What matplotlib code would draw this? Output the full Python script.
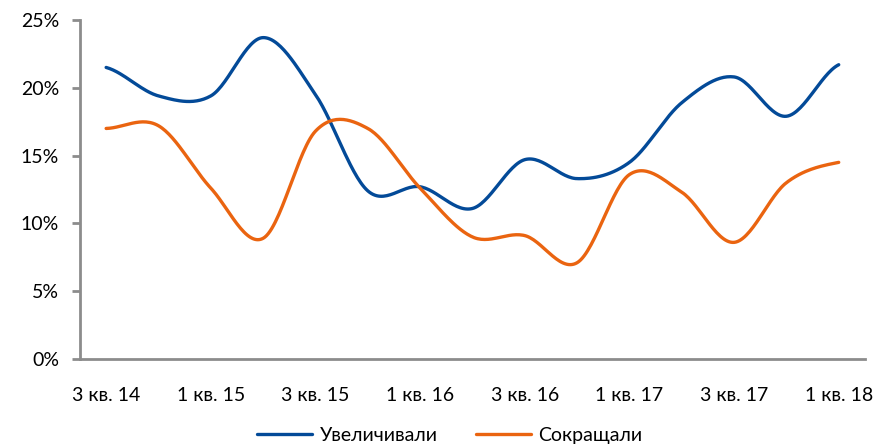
import numpy as np
import matplotlib.pyplot as plt
from matplotlib.ticker import FuncFormatter

quarters = ['3 кв. 14', '4 кв. 14', '1 кв. 15', '2 кв. 15', '3 кв. 15', '4 кв. 15',
            '1 кв. 16', '2 кв. 16', '3 кв. 16', '4 кв. 16', '1 кв. 17', '2 кв. 17',
            '3 кв. 17', '4 кв. 17', '1 кв. 18']
increased = [21.5, 19.4, 19.4, 23.7, 19.5, 12.4, 12.7, 11.1, 14.7, 13.3, 14.5, 18.9, 20.8, 17.9, 21.7]
decreased = [17.0, 17.2, 12.6, 8.9, 16.8, 17.0, 12.6, 9.0, 9.1, 7.1, 13.6, 12.3, 8.6, 13.0, 14.5]

blue = '#034a98'
orange = '#ea6410'


def smooth(y, n=30):
    # Excel-like smoothing (Catmull-Rom through the points)
    y = np.asarray(y, dtype=float)
    x = np.arange(len(y), dtype=float)
    p = np.concatenate([[y[0]], y, [y[-1]]])
    xs, ys = [], []
    for i in range(len(y) - 1):
        p0, p1, p2, p3 = p[i], p[i + 1], p[i + 2], p[i + 3]
        t = np.linspace(0, 1, n, endpoint=False)
        m1 = (p2 - p0) / 2
        m2 = (p3 - p1) / 2
        h00 = 2 * t**3 - 3 * t**2 + 1
        h10 = t**3 - 2 * t**2 + t
        h01 = -2 * t**3 + 3 * t**2
        h11 = t**3 - t**2
        xs.append(x[i] + t)
        ys.append(h00 * p1 + h10 * m1 + h01 * p2 + h11 * m2)
    xs.append([x[-1]])
    ys.append([y[-1]])
    return np.concatenate(xs), np.concatenate(ys)


plt.rcParams['font.family'] = ['Lato', 'DejaVu Sans']

fig = plt.figure(figsize=(8.77, 4.48), dpi=100)
ax = fig.add_axes([0.0912, 0.1987, 0.895, 0.7567])

ax.plot(*smooth(increased), color=blue, lw=2.4, solid_capstyle='round', label='Увеличивали')
ax.plot(*smooth(decreased), color=orange, lw=2.4, solid_capstyle='round', label='Сокращали')

ax.set_xlim(-0.5, len(quarters) - 0.5)
ax.set_ylim(0, 25)
ax.set_yticks(np.arange(0, 26, 5))
ax.yaxis.set_major_formatter(FuncFormatter(lambda v, _: f'{v:.0f}%'))
ax.set_xticks(np.arange(0, len(quarters), 2))
ax.set_xticklabels(quarters[::2])

for s in ['top', 'right']:
    ax.spines[s].set_visible(False)
for s in ['left', 'bottom']:
    ax.spines[s].set_color('#8c8c8c')
    ax.spines[s].set_linewidth(2)

ax.tick_params(axis='y', length=6, width=2, color='#8c8c8c', pad=9, labelsize=14)
ax.tick_params(axis='x', length=0, pad=20, labelsize=14)

fig.legend(loc='lower center', bbox_to_anchor=(0.513, -0.03), ncol=2, frameon=False,
           fontsize=14, handlelength=2.8, columnspacing=2.0, handletextpad=0.4)

fig.savefig('out.png', dpi=100)
